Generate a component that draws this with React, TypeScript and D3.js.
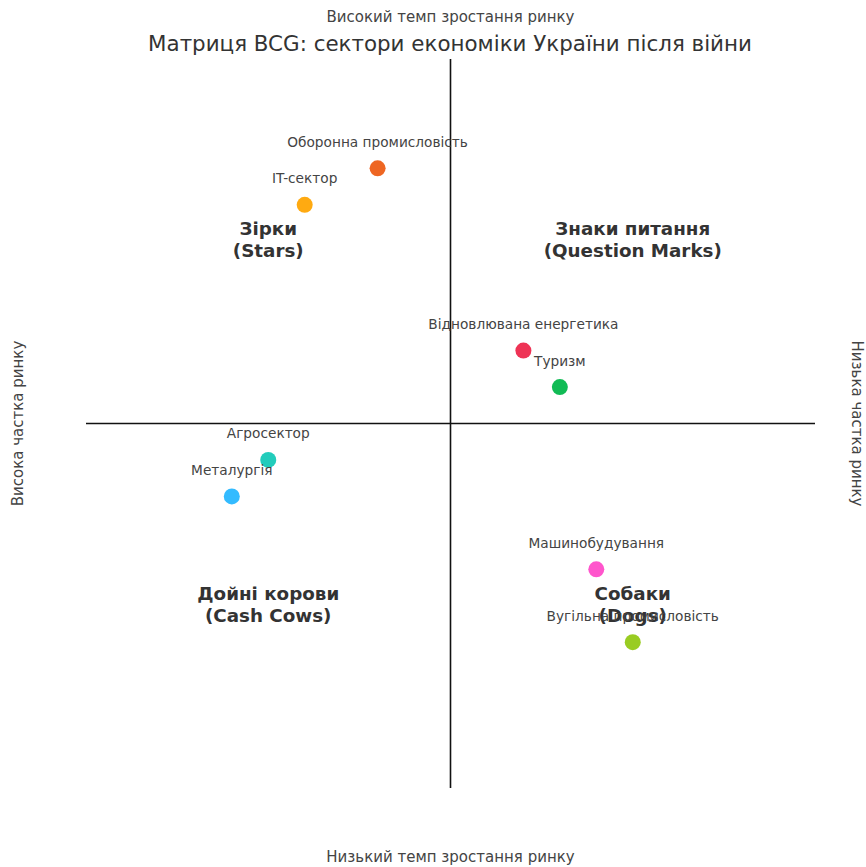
import React from "react";
import * as d3 from "d3";

const sectors = ["Оборонна промисловість", "IT-сектор", "Відновлювана енергетика", "Туризм", "Агросектор", "Металургія", "Машинобудування", "Вугільна промисловість"];
const shareValues = [-0.2, -0.4, 0.2, 0.3, -0.5, -0.6, 0.4, 0.5];
const growthValues = [0.7, 0.6, 0.2, 0.1, -0.1, -0.2, -0.4, -0.6];
const pointColors = ["#ee6622", "#ffaa11", "#ee3355", "#11bb55", "#22ccbb", "#33bbff", "#ff55cc", "#99cc22"];
const quadrantLabels = [["Зірки", "(Stars)"], ["Знаки питання", "(Question Marks)"], ["Дойні корови", "(Cash Cows)"], ["Собаки", "(Dogs)"]];
const quadrantX = [-0.5, 0.5, -0.5, 0.5];
const quadrantY = [0.5, 0.5, -0.5, -0.5];

const W = 866, H = 867;
const FONT = "DejaVu Sans, sans-serif";

export default function App() {
  const x = d3.scaleLinear().domain([-1, 1]).range([86, 815]);
  const y = d3.scaleLinear().domain([-1, 1]).range([788, 59]);
  return (
    <svg width={W} height={H} style={{ position: "absolute", left: 0, top: 0, background: "#fff" }} fontFamily={FONT}>
      <rect width={W} height={H} fill="#fff" />
      <line x1={x(-1)} x2={x(1)} y1={y(0)} y2={y(0)} stroke="#111" strokeWidth={1.6} />
      <line x1={x(0)} x2={x(0)} y1={y(1)} y2={y(-1)} stroke="#111" strokeWidth={1.6} />
      <text x={450} y={43} textAnchor="middle" dominantBaseline="central" fontSize={21.4} fill="#333">Матриця BCG: сектори економіки України після війни</text>
      <text x={x(0)} y={17} textAnchor="middle" dominantBaseline="central" fontSize={15} fill="#444">Високий темп зростання ринку</text>
      <text x={x(0)} y={857} textAnchor="middle" dominantBaseline="central" fontSize={15} fill="#444">Низький темп зростання ринку</text>
      <text transform={`translate(18,${y(0)}) rotate(-90)`} textAnchor="middle" dominantBaseline="central" fontSize={15} fill="#444">Висока частка ринку</text>
      <text transform={`translate(857,${y(0)}) rotate(90)`} textAnchor="middle" dominantBaseline="central" fontSize={15} fill="#444">Низька частка ринку</text>
      {quadrantLabels.map((q, i) => (
        <text key={i} x={x(quadrantX[i])} y={y(quadrantY[i])} textAnchor="middle" fontSize={18.3} fontWeight="bold" fill="#333">
          <tspan x={x(quadrantX[i])} dy={-6}>{q[0]}</tspan>
          <tspan x={x(quadrantX[i])} dy={22}>{q[1]}</tspan>
        </text>
      ))}
      {sectors.map((s, i) => (
        <g key={s}>
          <circle cx={x(shareValues[i])} cy={y(growthValues[i])} r={8} fill={pointColors[i]} />
          <text x={x(shareValues[i])} y={y(growthValues[i]) - 26.5} textAnchor="middle" dominantBaseline="central" fontSize={13.7} fill="#444">{s}</text>
        </g>
      ))}
    </svg>
  );
}
